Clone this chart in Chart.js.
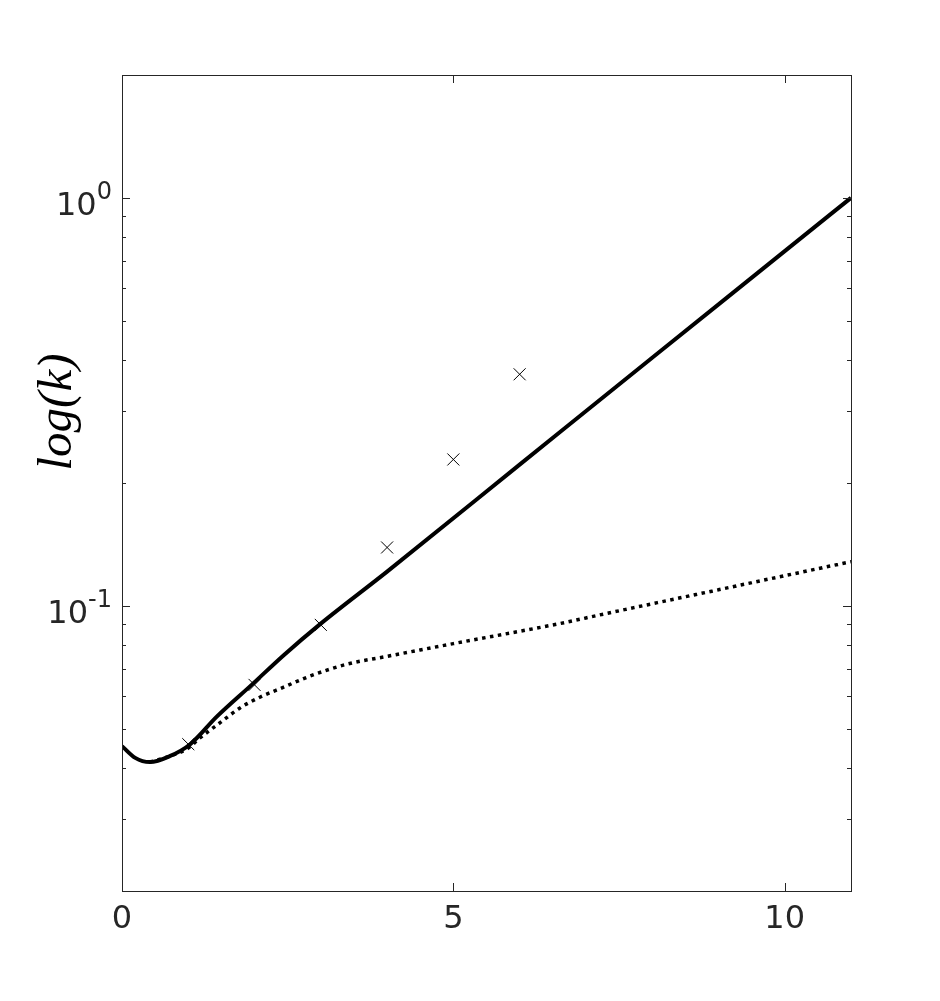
<!DOCTYPE html>
<html><head><meta charset="utf-8">
<script src="https://cdn.jsdelivr.net/npm/chart.js@4.4.1/dist/chart.umd.min.js"></script>
<style>html,body{margin:0;padding:0;background:#fff;}canvas{display:block;}</style>
</head><body>
<canvas id="c" width="940" height="1001"></canvas>
<script>
// ---- data ----
const solidX = [0, 0.2, 0.42, 0.72, 1.03, 1.43, 1.96, 2.44, 2.99, 4, 6, 8, 10, 11];
const solidY = [0.0453, 0.0424, 0.0414, 0.0428, 0.0458, 0.0535, 0.0641, 0.0757, 0.0902, 0.1213, 0.2218, 0.4055, 0.740, 1.0];
const dottedX = [0.42, 0.72, 1.0, 1.18, 1.48, 1.78, 2.08, 2.44, 2.84, 3.39, 4, 5, 6.61, 7.21, 9, 11];
const dottedY = [0.0414, 0.0428, 0.0448, 0.0475, 0.0517, 0.0562, 0.0597, 0.0632, 0.0673, 0.0719, 0.0752, 0.0808, 0.0905, 0.0950, 0.1095, 0.1283];
const crossX = [1, 2, 3, 4, 5, 6];
const crossY = [0.0458, 0.0640, 0.0898, 0.139, 0.2284, 0.3694];
const xTicks = [0, 5, 10];
const yMajorTicks = [0.1, 1];
const yMajorBase = ['10', '10'];
const yMajorExp = ['-1', '0'];
const yMinorTicks = [0.02, 0.03, 0.04, 0.05, 0.06, 0.07, 0.08, 0.09, 0.2, 0.3, 0.4, 0.5, 0.6, 0.7, 0.8, 0.9];
const yTitle = 'log(k)';
const xRange = [0, 11];
const yRange = [0.02, 2];

const AX = '#262626';
const axesPlugin = {
  id: 'matlabAxes',
  afterDraw(chart) {
    const {ctx, chartArea: a, scales: {x, y}} = chart;
    const L = Math.round(a.left), R = Math.round(a.right), T = Math.round(a.top), B = Math.round(a.bottom);
    ctx.save();
    ctx.strokeStyle = AX; ctx.lineWidth = 1;
    ctx.strokeRect(L + 0.5, T + 0.5, R - L, B - T);
    ctx.beginPath();
    xTicks.forEach(v => {
      const p = Math.round(x.getPixelForValue(v)) + 0.5;
      ctx.moveTo(p, B); ctx.lineTo(p, B - 8);
      ctx.moveTo(p, T); ctx.lineTo(p, T + 8);
    });
    yMajorTicks.forEach(v => {
      const p = Math.round(y.getPixelForValue(v)) + 0.5;
      ctx.moveTo(L, p); ctx.lineTo(L + 8, p);
      ctx.moveTo(R, p); ctx.lineTo(R - 8, p);
    });
    yMinorTicks.forEach(v => {
      const p = Math.round(y.getPixelForValue(v)) + 0.5;
      ctx.moveTo(L, p); ctx.lineTo(L + 4, p);
      ctx.moveTo(R, p); ctx.lineTo(R - 4, p);
    });
    ctx.stroke();
    // y tick labels with superscripts
    ctx.fillStyle = AX;
    ctx.textBaseline = 'alphabetic';
    yMajorTicks.forEach((v, i) => {
      const p = y.getPixelForValue(v);
      const right = L - 10;
      ctx.font = '24px "DejaVu Sans"';
      ctx.textAlign = 'right';
      const sw = ctx.measureText(yMajorExp[i]).width;
      ctx.fillText(yMajorExp[i], right, p + 1);
      ctx.font = '32px "DejaVu Sans"';
      ctx.fillText(yMajorBase[i], right - sw, p + 17);
    });
    // y title
    ctx.translate(71, 412);
    ctx.rotate(-Math.PI / 2);
    ctx.font = 'italic 49px "Liberation Serif"';
    ctx.fillStyle = '#000';
    ctx.textAlign = 'center';
    ctx.fillText(yTitle, 0, 0);
    ctx.restore();
  }
};

const pts = (xs, ys) => xs.map((v, i) => ({x: v, y: ys[i]}));

new Chart(document.getElementById('c'), {
  type: 'line',
  data: {
    datasets: [
      {data: pts(solidX, solidY), borderColor: '#000', borderWidth: 4, pointRadius: 0,
       cubicInterpolationMode: 'monotone', fill: false},
      {data: pts(dottedX, dottedY), borderColor: '#000', borderWidth: 3.5, pointRadius: 0,
       borderDash: [3.5, 4.5], borderCapStyle: 'butt', cubicInterpolationMode: 'monotone', fill: false},
      {data: pts(crossX, crossY), showLine: false, pointStyle: 'crossRot', pointRadius: 8.5,
       pointBorderWidth: 1, pointBorderColor: '#000', pointBackgroundColor: '#000'}
    ]
  },
  options: {
    responsive: false, animation: false,
    layout: {padding: {left: 122, right: 89, top: 75, bottom: 0}},
    plugins: {legend: {display: false}, tooltip: {enabled: false}},
    scales: {
      x: {type: 'linear', min: xRange[0], max: xRange[1],
          afterBuildTicks: s => { s.ticks = xTicks.map(v => ({value: v})); },
          afterFit: s => { s.height = 110; },
          grid: {display: false, drawTicks: false}, border: {display: false},
          ticks: {font: {family: 'DejaVu Sans', size: 32}, color: AX, padding: 9, maxRotation: 0, autoSkip: false}},
      y: {type: 'logarithmic', display: false, min: yRange[0], max: yRange[1]}
    }
  },
  plugins: [axesPlugin]
});
</script>
</body></html>
